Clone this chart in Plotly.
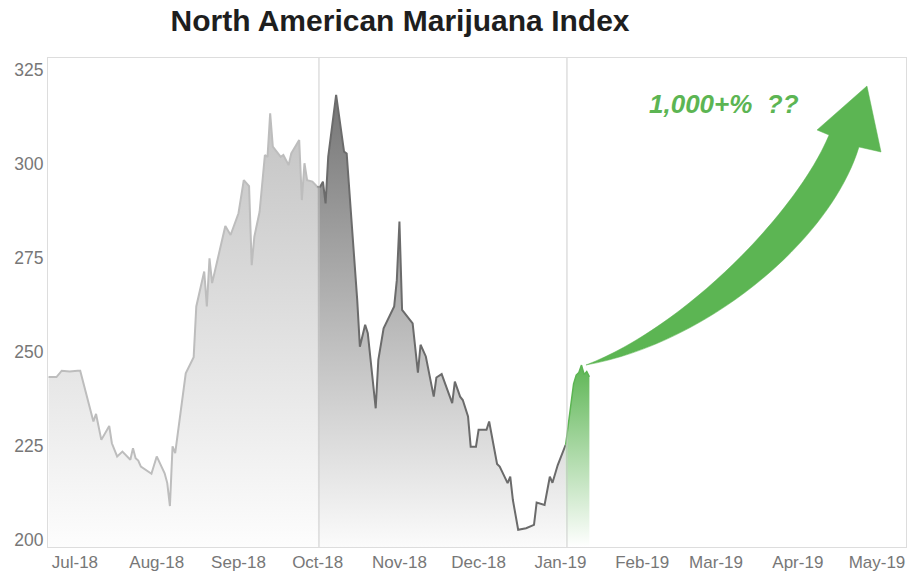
import plotly.graph_objects as go

# ---------------- data ----------------
light_dates = ["2018-06-21", "2018-06-24", "2018-06-26", "2018-06-29", "2018-07-02", "2018-07-03",
               "2018-07-08", "2018-07-09", "2018-07-11", "2018-07-14", "2018-07-15", "2018-07-17",
               "2018-07-19", "2018-07-22", "2018-07-23", "2018-07-24", "2018-07-25", "2018-07-26",
               "2018-07-30", "2018-08-01", "2018-08-04", "2018-08-05", "2018-08-06", "2018-08-07",
               "2018-08-08", "2018-08-12", "2018-08-15", "2018-08-16", "2018-08-19", "2018-08-20",
               "2018-08-21", "2018-08-22", "2018-08-27", "2018-08-29", "2018-09-01", "2018-09-03",
               "2018-09-05", "2018-09-06", "2018-09-07", "2018-09-09", "2018-09-11", "2018-09-12",
               "2018-09-13", "2018-09-14", "2018-09-17", "2018-09-18", "2018-09-20", "2018-09-21",
               "2018-09-24", "2018-09-25", "2018-09-26", "2018-09-27", "2018-09-29", "2018-10-01"]
light_values = [243.3, 243.3, 245.0, 244.8, 245.0, 245.0,
                231.5, 233.5, 226.6, 230.3, 225.7, 222.2,
                223.5, 221.3, 224.4, 221.7, 221.1, 219.5,
                217.6, 222.2, 217.7, 215.1, 209.0, 224.9,
                223.1, 244.3, 248.6, 262.1, 271.4, 262.1,
                274.9, 268.3, 283.5, 281.1, 286.9, 295.7,
                294.1, 273.1, 280.7, 287.3, 302.4, 301.9,
                313.5, 304.6, 301.9, 302.4, 299.7, 302.8,
                306.4, 290.4, 300.2, 295.7, 295.3, 293.8]

dark_dates = ["2018-10-01", "2018-10-02", "2018-10-03", "2018-10-04", "2018-10-05", "2018-10-08",
              "2018-10-11", "2018-10-12", "2018-10-16", "2018-10-17", "2018-10-19", "2018-10-20",
              "2018-10-23", "2018-10-24", "2018-10-26", "2018-10-30", "2018-10-31", "2018-11-01",
              "2018-11-02", "2018-11-06", "2018-11-08", "2018-11-09", "2018-11-11", "2018-11-14",
              "2018-11-15", "2018-11-17", "2018-11-21", "2018-11-22", "2018-11-24", "2018-11-25",
              "2018-11-27", "2018-11-28", "2018-11-30", "2018-12-01", "2018-12-04", "2018-12-05",
              "2018-12-08", "2018-12-09", "2018-12-12", "2018-12-13", "2018-12-14", "2018-12-16",
              "2018-12-19", "2018-12-22", "2018-12-23", "2018-12-26", "2018-12-28", "2018-12-29",
              "2018-12-31", "2019-01-03"]
dark_values = [293.8, 294.0, 295.3, 289.5, 301.9, 318.4,
               303.3, 302.8, 263.8, 251.4, 257.2, 255.0,
               235.0, 247.9, 256.3, 262.1, 269.1, 284.7,
               261.2, 257.6, 244.5, 251.9, 248.8, 238.1,
               243.2, 244.1, 236.4, 242.1, 238.1, 237.2,
               232.8, 224.8, 224.8, 229.3, 229.3, 231.5,
               220.2, 219.5, 215.1, 216.8, 210.6, 202.7,
               203.1, 204.0, 209.9, 209.3, 216.8, 215.2,
               219.9, 225.3]

green_dates = ["2019-01-03", "2019-01-05", "2019-01-06", "2019-01-07", "2019-01-08",
               "2019-01-09", "2019-01-10", "2019-01-11", "2019-01-12"]
green_values = [225.3, 235.5, 241.5, 243.8, 244.5, 246.5, 244.0, 244.8, 243.4]

divider_dates = ["2018-10-01 12:00", "2019-01-03 12:00"]
y_tick_values = [200, 225, 250, 275, 300, 325]
title_text = "North American Marijuana Index"
callout_text = "1,000+%  ??"

# ---------------- layout geometry ----------------
W, H = 909, 573
ML, MR, MT, MB = 48, 3, 58, 26
PW, PH = W - ML - MR, H - MT - MB
Y_MIN, Y_MAX = 198.1, 328.2
GREEN = "#5cb553"


def paper(x, y):
    """pixel position -> paper coordinates string for decorative path"""
    return f"{(x - ML) / PW:.4f},{(H - MB - y) / PH:.4f}"


fig = go.Figure()

fig.add_trace(go.Scatter(
    x=light_dates, y=light_values, mode="lines",
    line=dict(color="#bdbdbd", width=2),
    fill="tozeroy",
    fillgradient=dict(type="vertical", start=Y_MIN, stop=320,
                      colorscale=[[0, "#fdfdfd"], [1, "#c0c0c0"]]),
    hoverinfo="skip", showlegend=False))

fig.add_trace(go.Scatter(
    x=dark_dates, y=dark_values, mode="lines",
    line=dict(color="#6b6b6b", width=2),
    fill="tozeroy",
    fillgradient=dict(type="vertical", start=Y_MIN, stop=320,
                      colorscale=[[0, "#fbfbfb"], [1, "#737373"]]),
    hoverinfo="skip", showlegend=False))

fig.add_trace(go.Scatter(
    x=green_dates, y=green_values, mode="lines",
    line=dict(color=GREEN, width=1.5),
    fill="tozeroy",
    fillgradient=dict(type="vertical", start=Y_MIN, stop=247,
                      colorscale=[[0, "#ffffff"], [1, GREEN]]),
    hoverinfo="skip", showlegend=False))

for d in divider_dates:
    fig.add_shape(type="line", xref="x", yref="paper", x0=d, x1=d, y0=0, y1=1,
                  line=dict(color="rgba(200,200,200,0.9)", width=1), layer="above")

# curved arrow (decoration)
T = (586, 365)
arrow_path = (
    f"M {paper(*T)} "
    f"C {paper(685, 327)} {paper(797, 212)} {paper(829, 135)} "
    f"L {paper(817, 130)} L {paper(867, 86)} L {paper(881, 152)} L {paper(859, 147)} "
    f"C {paper(830, 242)} {paper(705, 344)} {paper(*T)} Z"
)
fig.add_shape(type="path", xref="paper", yref="paper", path=arrow_path,
              fillcolor=GREEN, line=dict(color=GREEN, width=0.5), layer="above")

fig.add_annotation(x=(724 - ML) / PW, y=(H - MB - 104) / PH, xref="paper", yref="paper",
                   text=f"<b><i>{callout_text}</i></b>", showarrow=False,
                   font=dict(family="Liberation Sans, Arial", size=26, color=GREEN),
                   xanchor="center", yanchor="middle")

fig.update_layout(
    width=W, height=H,
    margin=dict(l=ML, r=MR, t=MT, b=MB, autoexpand=False),
    paper_bgcolor="white", plot_bgcolor="white",
    title=dict(text=f"<b>{title_text}</b>", x=400 / W, xanchor="center",
               y=1 - 20 / H, yanchor="middle", yref="container",
               font=dict(family="Liberation Sans, Arial", size=30, color="#1e1e1e")),
    xaxis=dict(type="date", range=["2018-06-20 19:00", "2019-05-12"],
               tick0="2018-07-01", dtick="M1", tickformat="%b-%y",
               showgrid=False, zeroline=False, ticks="",
               automargin=False,
               showline=True, mirror=True, linecolor="#dddddd", linewidth=1,
               tickfont=dict(family="Liberation Sans, Arial", size=17, color="#777777")),
    yaxis=dict(range=[Y_MIN, Y_MAX], tickvals=y_tick_values,
               showgrid=False, zeroline=False, ticks="", automargin=False,
               showline=True, mirror=True, linecolor="#dddddd", linewidth=1,
               tickfont=dict(family="Liberation Sans, Arial", size=17.5, color="#777777")),
)

fig.write_html("out.html")
